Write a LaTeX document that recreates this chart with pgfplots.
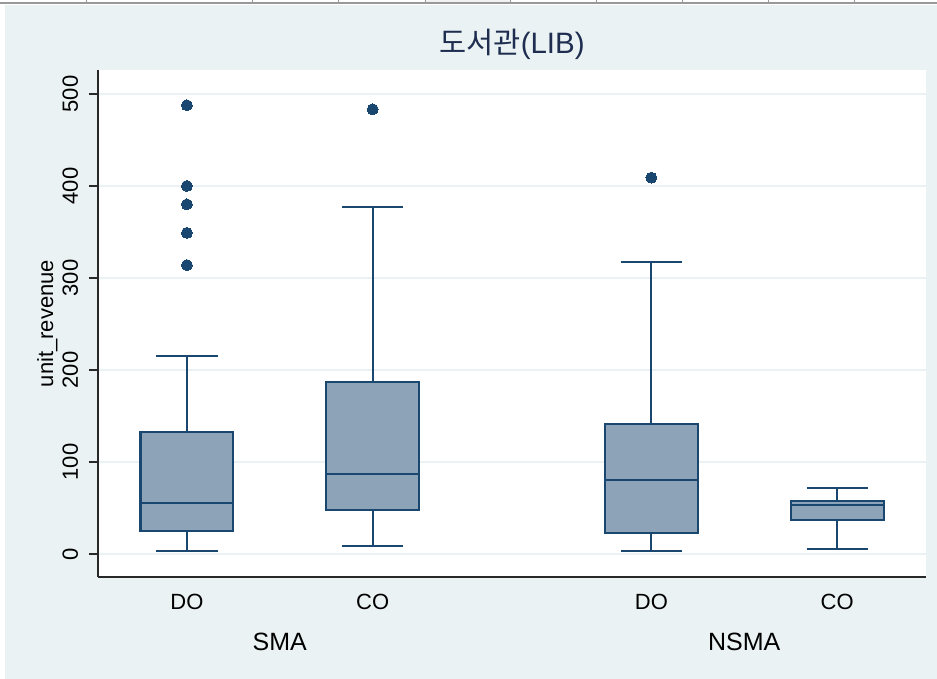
\documentclass[border=0pt]{standalone}
\usepackage{fontspec}
\setmainfont{Liberation Sans}
\newfontfamily\krfont{Noto Sans CJK KR}
\usepackage{pgfplots}
\pgfplotsset{compat=1.18}

\definecolor{stbg}{RGB}{234,242,243}
\definecolor{stnavy}{RGB}{26,71,111}
\definecolor{stfill}{RGB}{141,163,183}
\definecolor{stgrid}{RGB}{234,242,243}
\definecolor{sttitle}{RGB}{30,45,80}
\definecolor{stline}{RGB}{40,40,40}

\newcommand{\tickfont}{\fontsize{22bp}{26bp}\selectfont}

\begin{document}
\begin{tikzpicture}
% frame of the screenshot: 937 x 679 px, 1px = 1bp, axis corner at (98,577)px
\useasboundingbox (-98bp,-102bp) rectangle (839bp,577bp);
\fill[white] (-98bp,-102bp) rectangle (839bp,577bp);
\fill[stbg] (-93bp,-102bp) rectangle (839bp,572bp);
\fill[black!5] (327bp,574.5bp) rectangle (412bp,577bp);
\draw[black!40, line width=1.2bp] (-98bp,574bp) -- (839bp,574bp);
\foreach \px in {-11,154,240,327,412,498,584,670,756}
  \draw[black!40, line width=1bp] (\px bp,574bp) -- (\px bp,577bp);

\begin{axis}[
  at={(0bp,0bp)}, anchor=south west,
  scale only axis, width=828bp, height=507bp,
  xmin=0.5215, xmax=4.978, ymin=-25, ymax=526,
  axis background/.style={fill=white},
  axis lines*=left,
  axis line style={stline, line width=1.3bp},
  /pgf/number format/assume math mode=true,
  ytick={0,100,200,300,400,500},
  ymajorgrids, grid style={stgrid, line width=1.5bp},
  xtick={1,2,3.5,4.5}, xticklabels={DO,CO,DO,CO},
  extra x ticks={1.5,4}, extra x tick labels={SMA,NSMA},
  extra x tick style={grid=none,
    xticklabel style={font=\fontsize{25bp}{29bp}\selectfont, yshift=-41.5bp}},
  tick align=outside, major tick length=9bp,
  xtick style={draw=none},
  ytick style={stline, line width=1.3bp},
  yticklabel style={font=\tickfont, rotate=90, anchor=base, yshift=11bp},
  xticklabel style={font=\tickfont, anchor=base, yshift=-23bp},
  ylabel={unit\_revenue},
  ylabel style={font=\tickfont, at={(axis description cs:-0.0543,0.5)}, anchor=base},
  title={{\krfont 도서관}(LIB)},
  title style={font=\fontsize{29.5bp}{33bp}\selectfont, text=sttitle,
    at={(axis description cs:0.5,1)}, anchor=base, yshift=10.7bp},
  box/.style={draw=stnavy, fill=stfill, line width=2.1bp, line join=miter},
  wh/.style={draw=stnavy, line width=1.9bp},
  md/.style={draw=stnavy, line width=2.1bp},
  out/.style={only marks, mark=*, mark size=5.5bp,
    mark options={fill=stnavy, draw=stnavy, line width=0pt}},
]
% SMA - DO : whiskers 3.3 / 215, quartiles 25 / 133, median 55
\addplot[wh] coordinates {(1,133) (1,215)};
\addplot[wh] coordinates {(1,3.3) (1,25)};
\addplot[wh] coordinates {(0.835,215) (1.165,215)};
\addplot[wh] coordinates {(0.835,3.3) (1.165,3.3)};
\addplot[box] coordinates {(0.75,25) (1.25,25) (1.25,133) (0.75,133)} -- cycle;
\addplot[md] coordinates {(0.75,55) (1.25,55)};
\addplot[out] coordinates {(1,487.7) (1,400) (1,380) (1,349) (1,314)};

% SMA - CO : whiskers 9.1 / 377.5, quartiles 48.2 / 187, median 87.3
\addplot[wh] coordinates {(2,187) (2,377.5)};
\addplot[wh] coordinates {(2,9.1) (2,48.2)};
\addplot[wh] coordinates {(1.835,377.5) (2.165,377.5)};
\addplot[wh] coordinates {(1.835,9.1) (2.165,9.1)};
\addplot[box] coordinates {(1.75,48.2) (2.25,48.2) (2.25,187) (1.75,187)} -- cycle;
\addplot[md] coordinates {(1.75,87.3) (2.25,87.3)};
\addplot[out] coordinates {(2,483.3)};

% NSMA - DO : whiskers 3.3 / 317, quartiles 22.8 / 141.3, median 80
\addplot[wh] coordinates {(3.5,141.3) (3.5,317)};
\addplot[wh] coordinates {(3.5,3.3) (3.5,22.8)};
\addplot[wh] coordinates {(3.335,317) (3.665,317)};
\addplot[wh] coordinates {(3.335,3.3) (3.665,3.3)};
\addplot[box] coordinates {(3.25,22.8) (3.75,22.8) (3.75,141.3) (3.25,141.3)} -- cycle;
\addplot[md] coordinates {(3.25,80) (3.75,80)};
\addplot[out] coordinates {(3.5,409)};

% NSMA - CO : whiskers 5.4 / 72, quartiles 36.6 / 58, median 53.3
\addplot[wh] coordinates {(4.5,58) (4.5,72)};
\addplot[wh] coordinates {(4.5,5.4) (4.5,36.6)};
\addplot[wh] coordinates {(4.335,72) (4.665,72)};
\addplot[wh] coordinates {(4.335,5.4) (4.665,5.4)};
\addplot[box] coordinates {(4.25,36.6) (4.75,36.6) (4.75,58) (4.25,58)} -- cycle;
\addplot[md] coordinates {(4.25,53.3) (4.75,53.3)};
\end{axis}
\end{tikzpicture}
\end{document}
